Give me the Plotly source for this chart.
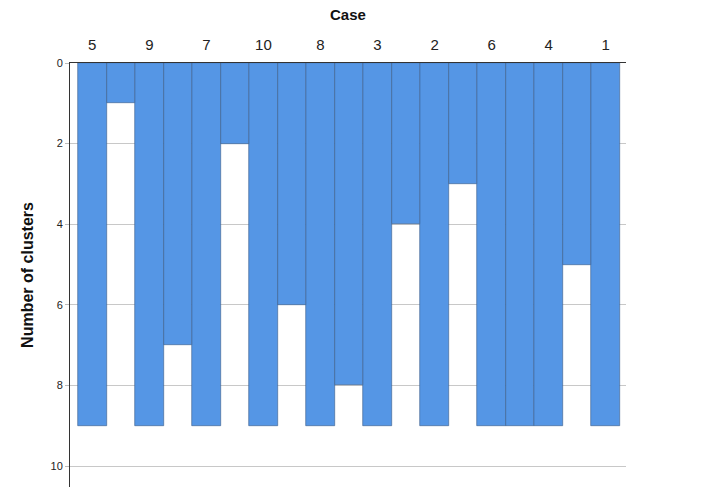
import plotly.graph_objects as go

# Icicle plot data (SPSS-style)
cases = ['5', '9', '7', '10', '8', '3', '2', '6', '4', '1']
case_depth = [9, 9, 9, 9, 9, 9, 9, 9, 9, 9]
# joins between neighbouring cases: number of clusters down to which they stay joined
join_depth = [1, 7, 2, 6, 8, 4, 3, 9, 5]

blue = '#5596E5'
edge = '#3a5d88'

case_x = [2 * i for i in range(len(cases))]
join_x = [2 * i + 1 for i in range(len(join_depth))]

fig = go.Figure()
fig.add_trace(go.Bar(x=case_x, y=case_depth, width=1, marker_color=blue,
                     marker_line=dict(color=edge, width=0.6), showlegend=False))
fig.add_trace(go.Bar(x=join_x, y=join_depth, width=1, marker_color=blue,
                     marker_line=dict(color=edge, width=0.6), showlegend=False))

# page body adds an 8px offset, so margins are reduced accordingly
fig.update_layout(
    width=705, height=494,
    margin=dict(l=62, r=87, t=55, b=15),
    plot_bgcolor='white', paper_bgcolor='white',
    font=dict(family='Liberation Sans, Arial, sans-serif', color='#222'),
    bargap=0,
    annotations=[dict(text='<b>Case</b>', x=0.5, y=1, xref='paper', yref='paper',
                      yanchor='bottom', yshift=38, showarrow=False,
                      font=dict(size=15, color='#111'))],
)
fig.update_xaxes(
    side='top', range=[-0.78, 18.71], automargin=False,
    tickmode='array', tickvals=case_x, ticktext=cases,
    tickfont=dict(size=15, color='#222'), ticks='', ticklabelstandoff=6,
    showgrid=False, showline=True, linecolor='#333', linewidth=1, zeroline=False,
)
fig.update_yaxes(
    range=[10.52, 0], tickvals=[0, 2, 4, 6, 8, 10], automargin=False,
    tickfont=dict(size=11, color='#222'),
    ticks='outside', ticklen=4, tickcolor='#bbb',
    showgrid=True, gridcolor='#c8c8c8', gridwidth=1,
    showline=True, linecolor='#333', linewidth=1, zeroline=False,
    title=dict(text='<b>Number of clusters</b>', font=dict(size=16, color='#111'), standoff=12),
)

fig.write_html("out.html")
